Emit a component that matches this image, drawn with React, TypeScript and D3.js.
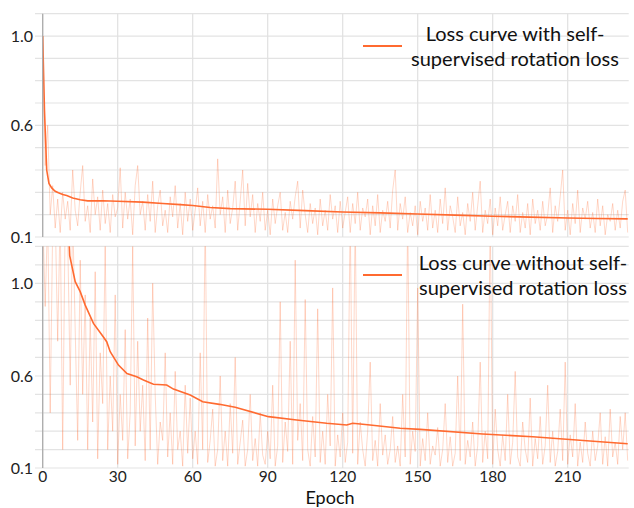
import * as d3 from "d3";

// raw per-epoch loss, with rotation loss (top panel)
const rawWithRot = [
  1.0, 0.42, 0.6, 0.2, 0.33, 0.14, 0.27, 0.12, 0.3, 0.18,
  0.26, 0.13, 0.4, 0.22, 0.15, 0.3, 0.42, 0.17, 0.24, 0.12,
  0.36, 0.2, 0.28, 0.13, 0.31, 0.16, 0.25, 0.12, 0.29, 0.19,
  0.23, 0.41, 0.14, 0.3, 0.18, 0.27, 0.11, 0.33, 0.42, 0.2,
  0.26, 0.13, 0.29, 0.17, 0.35, 0.12, 0.24, 0.31, 0.15, 0.22,
  0.12, 0.28, 0.19, 0.33, 0.14, 0.25, 0.11, 0.3, 0.17, 0.27,
  0.13, 0.22, 0.32, 0.15, 0.26, 0.12, 0.29, 0.18, 0.24, 0.14,
  0.45, 0.2, 0.28, 0.12, 0.31, 0.16, 0.23, 0.35, 0.13, 0.26,
  0.4, 0.15, 0.34, 0.19, 0.29, 0.12, 0.25, 0.17, 0.3, 0.13,
  0.22, 0.11, 0.27, 0.16, 0.24, 0.3, 0.13, 0.21, 0.12, 0.26,
  0.18, 0.28, 0.35, 0.14, 0.31, 0.2, 0.12, 0.25, 0.16, 0.23,
  0.11, 0.27, 0.15, 0.22, 0.13, 0.29, 0.18, 0.24, 0.12, 0.26,
  0.14, 0.21, 0.28, 0.12, 0.25, 0.16, 0.3, 0.13, 0.23, 0.19,
  0.27, 0.11, 0.24, 0.15, 0.29, 0.12, 0.22, 0.17, 0.26, 0.14,
  0.31, 0.4, 0.13, 0.25, 0.18, 0.28, 0.12, 0.21, 0.15, 0.24,
  0.11, 0.26, 0.17, 0.23, 0.13, 0.29, 0.14, 0.22, 0.12, 0.27,
  0.16, 0.32, 0.13, 0.24, 0.19, 0.12, 0.28, 0.15, 0.21, 0.11,
  0.25, 0.17, 0.3, 0.13, 0.24, 0.35, 0.12, 0.22, 0.16, 0.27,
  0.11, 0.23, 0.15, 0.28, 0.13, 0.2, 0.26, 0.12, 0.24, 0.17,
  0.29, 0.12, 0.21, 0.14, 0.25, 0.11, 0.27, 0.16, 0.22, 0.13,
  0.26, 0.15, 0.2, 0.32, 0.12, 0.24, 0.17, 0.28, 0.4, 0.13,
  0.22, 0.11, 0.25, 0.16, 0.31, 0.12, 0.23, 0.18, 0.26, 0.14,
  0.21, 0.12, 0.27, 0.15, 0.24, 0.11, 0.2, 0.17, 0.25, 0.13,
  0.22, 0.14, 0.26, 0.31, 0.12,
];

// raw per-epoch loss, without rotation loss (bottom panel)
const rawWithoutRot = [
  1.3, 0.9, 1.3, 0.4, 1.25, 1.3, 0.75, 1.3, 0.2, 1.3,
  1.2, 0.55, 1.3, 0.8, 0.25, 1.1, 0.5, 0.95, 0.2, 0.85,
  0.35, 1.05, 0.15, 0.7, 0.45, 1.16, 0.2, 0.6, 0.3, 0.95,
  0.12, 0.5, 0.25, 0.8, 0.15, 0.4, 1.16, 0.22, 0.75, 0.3,
  0.55, 0.14, 0.85, 0.2, 1.0, 0.5, 0.12, 0.35, 0.25, 0.7,
  0.16, 0.4, 0.12, 0.62, 0.2, 0.3, 0.11, 0.55, 0.18, 0.48,
  0.15, 0.3, 0.12, 0.7, 0.2, 1.3, 0.13, 0.25, 0.42, 0.11,
  0.2, 0.6, 0.14, 0.3, 0.11, 0.45, 0.18, 0.68, 0.12, 0.24,
  0.36, 0.11, 0.2, 0.5, 0.14, 0.26, 0.11, 0.4, 0.17, 0.12,
  0.3, 0.15, 0.55, 0.11, 0.22, 0.92, 0.13, 0.35, 0.19, 0.75,
  0.12, 1.1, 0.25, 0.45, 0.14, 0.93, 0.2, 0.11, 0.38, 0.16,
  0.89, 0.13, 0.3, 0.12, 0.5, 0.22, 0.98, 0.11, 0.28, 0.16,
  0.4, 0.13, 0.24, 1.3, 0.18, 1.3, 0.12, 0.35, 0.2, 0.11,
  0.3, 0.66, 0.14, 0.25, 0.11, 0.45, 0.17, 0.28, 0.12, 0.2,
  0.38, 0.13, 0.22, 0.11, 0.5, 0.16, 1.3, 0.12, 0.3, 0.19,
  0.98, 0.11, 0.26, 0.14, 0.4, 0.12, 0.22, 0.17, 0.32, 0.11,
  0.2, 0.45, 0.13, 0.27, 0.11, 0.18, 0.6, 0.14, 0.91, 0.12,
  0.25, 0.16, 0.35, 0.11, 0.22, 0.66, 0.13, 0.3, 0.15, 1.3,
  0.12, 0.42, 0.2, 0.11, 0.28, 0.14, 0.5, 0.12, 0.24, 0.62,
  0.16, 0.11, 0.35, 0.2, 0.13, 0.48, 0.11, 0.26, 0.15, 0.38,
  0.12, 0.22, 0.55, 0.13, 0.3, 0.11, 0.19, 0.42, 0.14, 0.66,
  0.12, 0.28, 0.16, 0.45, 0.11, 0.24, 0.13, 0.35, 0.18, 0.11,
  0.3, 0.14, 0.22, 0.4, 0.12, 0.27, 0.11, 0.42, 0.16, 0.24,
  0.12, 0.38, 0.2, 0.4, 0.14,
];

// smoothed curves (epoch, value)
const smoothTopEpochs = [0, 0.7, 1.6, 2.5, 3.6, 5, 6.3, 8, 9.6, 12, 15, 18, 24, 30, 40, 48, 55, 60, 67, 75, 90, 105, 120, 135, 150, 165, 180, 195, 210, 222, 234];
const smoothTopValues = [1.0, 0.67, 0.4, 0.34, 0.32, 0.305, 0.298, 0.29, 0.286, 0.275, 0.267, 0.262, 0.262, 0.26, 0.256, 0.25, 0.245, 0.241, 0.232, 0.227, 0.224, 0.218, 0.212, 0.208, 0.203, 0.198, 0.193, 0.189, 0.185, 0.183, 0.181];

const smoothBotEpochs = [10.6, 10.8, 13, 15, 17, 20.3, 23.7, 25.6, 27, 30.3, 33.7, 37.6, 40.3, 44.3, 49.6, 52.3, 59, 64, 70.7, 77, 90.3, 101.6, 113.6, 121.6, 124, 130, 143, 151, 176, 196, 223, 234];
const smoothBotValues = [1.17, 1.12, 1.007, 0.964, 0.906, 0.827, 0.777, 0.748, 0.705, 0.647, 0.611, 0.596, 0.578, 0.555, 0.551, 0.529, 0.497, 0.46, 0.446, 0.43, 0.379, 0.361, 0.343, 0.334, 0.343, 0.335, 0.316, 0.31, 0.285, 0.27, 0.243, 0.232];

const xTicks = [0, 30, 60, 90, 120, 150, 180, 210];
const topLabels = [0.1, 0.6, 1.0];
const topGrid = [0.1, 0.2, 0.3, 0.4, 0.5, 0.6, 0.7, 0.8, 0.9, 1.0, 1.1];
const botLabels = [0.1, 0.6, 1.0];
const botGrid = [0.1, 0.2, 0.3, 0.4, 0.5, 0.6, 0.68, 0.76, 0.84, 0.92, 1.0, 1.08, 1.16];

const W = 634;
const H = 508;
const ORANGE = "#ff6a30";
const FONT = "Lato, 'Open Sans', sans-serif";

export default function App() {
  const x = d3.scaleLinear().domain([0, 234]).range([42.7, 627.7]);
  const yTop = d3.scaleLinear().domain([0.1, 1.1]).range([237, 13.7]);
  // the bottom axis is labelled unevenly, so the scale is piecewise
  const yBot = d3.scaleLinear().domain([0.1, 0.6, 1.0, 1.16]).range([468, 376, 283.3, 246.3]);

  const panels = [
    {
      id: "top",
      y: yTop,
      grid: topGrid,
      labels: topLabels,
      raw: rawWithRot,
      sx: smoothTopEpochs,
      sy: smoothTopValues,
      legend: ["Loss curve with self-", "supervised rotation loss"],
      legendX: 515,
      legendLineY: 46,
      legendTextY: [34, 59],
    },
    {
      id: "bot",
      y: yBot,
      grid: botGrid,
      labels: botLabels,
      raw: rawWithoutRot,
      sx: smoothBotEpochs,
      sy: smoothBotValues,
      legend: ["Loss curve without self-", "supervised rotation loss"],
      legendX: 523,
      legendLineY: 275,
      legendTextY: [263, 288],
    },
  ];

  const [x0, x1] = x.range();

  return (
    <div style={{ position: "absolute", left: 0, top: 0 }}>
      <svg width={W} height={H} style={{ display: "block", background: "#fff" }}>
        {panels.map((p) => {
          const r = p.y.range();
          const yb = r[0];
          const yt = r[r.length - 1];
          const rawLine = d3
            .line<number>()
            .x((_, i) => x(i))
            .y((d) => p.y(d));
          const smoothLine = d3
            .line<number>()
            .x((_, i) => x(p.sx[i]))
            .y((d) => p.y(d));
          return (
            <g key={p.id}>
              <defs>
                <clipPath id={"clip-" + p.id}>
                  <rect x={x0} y={yt} width={x1 - x0 + 1} height={yb - yt} />
                </clipPath>
              </defs>
              {p.grid.map((v) => (
                <line key={"h" + v} x1={35} x2={x1 + 1} y1={p.y(v)} y2={p.y(v)} stroke="#e3e3e3" strokeWidth={1.2} />
              ))}
              {xTicks.map((t) => (
                <line key={"v" + t} x1={x(t)} x2={x(t)} y1={yt} y2={yb} stroke="#e0e0e0" strokeWidth={1.2} />
              ))}
              <g clipPath={`url(#clip-${p.id})`}>
                <path d={rawLine(p.raw) ?? ""} fill="none" stroke={ORANGE} strokeOpacity={0.26} strokeWidth={1} />
                <path d={smoothLine(p.sy) ?? ""} fill="none" stroke={ORANGE} strokeWidth={1.6} />
              </g>
              <line x1={x0} x2={x0} y1={yt} y2={yb} stroke="#a8a8a8" strokeWidth={1.2} />
              {p.labels.map((v) => (
                <text key={"l" + v} x={33} y={p.y(v)} dy="0.35em" textAnchor="end" fontFamily={FONT} fontSize={16} fill="#222">
                  {d3.format(".1f")(v)}
                </text>
              ))}
              <line x1={363} x2={402} y1={p.legendLineY} y2={p.legendLineY} stroke={ORANGE} strokeWidth={1.8} />
              {p.legend.map((s, i) => (
                <text key={s} x={p.legendX} y={p.legendTextY[i]} dy="0.35em" textAnchor="middle" fontFamily={FONT} fontSize={20} fill="#111">
                  {s}
                </text>
              ))}
            </g>
          );
        })}
        {xTicks.map((t) => (
          <text key={"xt" + t} x={x(t)} y={481.5} textAnchor="middle" fontFamily={FONT} fontSize={15.5} fill="#222">
            {t}
          </text>
        ))}
        <text x={330} y={503.5} textAnchor="middle" fontFamily={FONT} fontSize={18} fill="#111">
          Epoch
        </text>
      </svg>
    </div>
  );
}
